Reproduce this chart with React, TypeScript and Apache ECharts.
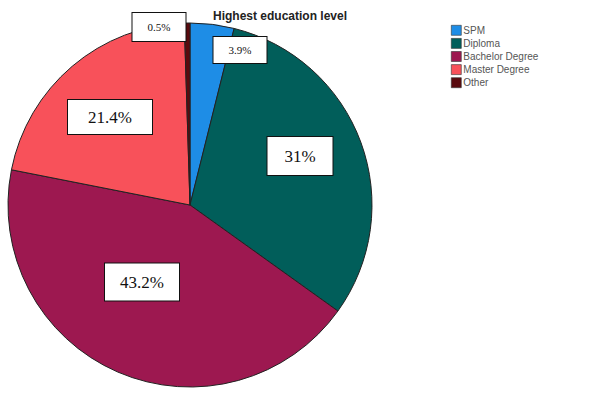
import React, { useEffect, useRef } from "react";
import * as echarts from "echarts";

const categories = ["SPM", "Diploma", "Bachelor Degree", "Master Degree", "Other"];
const values = [3.9, 31, 43.2, 21.4, 0.5];
const colors = ["#1e8de6", "#015e5a", "#9d1850", "#f8515a", "#5a0a0e"];
const titleText = "Highest education level";

// label box placement (centre) and size, by slice
const labelCentres: [number, number][] = [
  [240, 50],
  [300, 156],
  [142, 282],
  [110, 117],
  [159, 27],
];
const labelSizes: [number, number, number][] = [
  [53, 26, 11],
  [65, 38, 17],
  [74, 37, 17],
  [84, 34, 17],
  [53, 28, 11],
];

export default function App() {
  const ref = useRef<HTMLDivElement>(null);
  useEffect(() => {
    if (!ref.current) return;
    const chart = echarts.init(ref.current, null, { renderer: "svg" });
    chart.setOption({
      animation: false,
      backgroundColor: "#fff",
      title: {
        text: titleText,
        left: 275,
        top: 5,
        textAlign: "center",
        textStyle: {
          fontFamily: "Liberation Sans, Arial, sans-serif",
          fontSize: 12,
          fontWeight: "bold",
          color: "#222",
        },
      },
      legend: {
        orient: "vertical",
        left: 446,
        top: 20,
        itemWidth: 10,
        itemHeight: 10,
        itemGap: 2.5,
        icon: "rect",
        data: categories,
        textStyle: {
          fontFamily: "Liberation Sans, Arial, sans-serif",
          fontSize: 10,
          color: "#555",
          padding: [0, 0, 0, -3],
        },
        itemStyle: { borderColor: "#333", borderWidth: 0.6 },
      },
      series: [
        {
          type: "pie",
          center: [190, 205],
          radius: 182,
          startAngle: 90,
          clockwise: true,
          avoidLabelOverlap: false,
          itemStyle: { borderColor: "#222", borderWidth: 1 },
          labelLine: { show: false },
          emphasis: { disabled: true },
          label: {
            show: true,
            position: "inside",
            formatter: "{c}%",
            fontFamily: "Liberation Serif, Times New Roman, serif",
            color: "#111",
            backgroundColor: "#fff",
            borderColor: "#111",
            borderWidth: 1,
            align: "center",
            verticalAlign: "middle",
          },
          labelLayout: (params: any) => {
            const c = labelCentres[params.dataIndex];
            return { x: c[0], y: c[1], align: "center", verticalAlign: "middle" };
          },
          data: categories.map((name, i) => ({
            name,
            value: values[i],
            itemStyle: { color: colors[i] },
            label: {
              width: labelSizes[i][0],
              height: labelSizes[i][1],
              lineHeight: labelSizes[i][1],
              fontSize: labelSizes[i][2],
              align: "center",
            },
          })),
        },
      ],
    });
    return () => chart.dispose();
  }, []);
  return (
    <div
      ref={ref}
      style={{ position: "fixed", left: 0, top: 0, width: 609, height: 393 }}
    />
  );
}
